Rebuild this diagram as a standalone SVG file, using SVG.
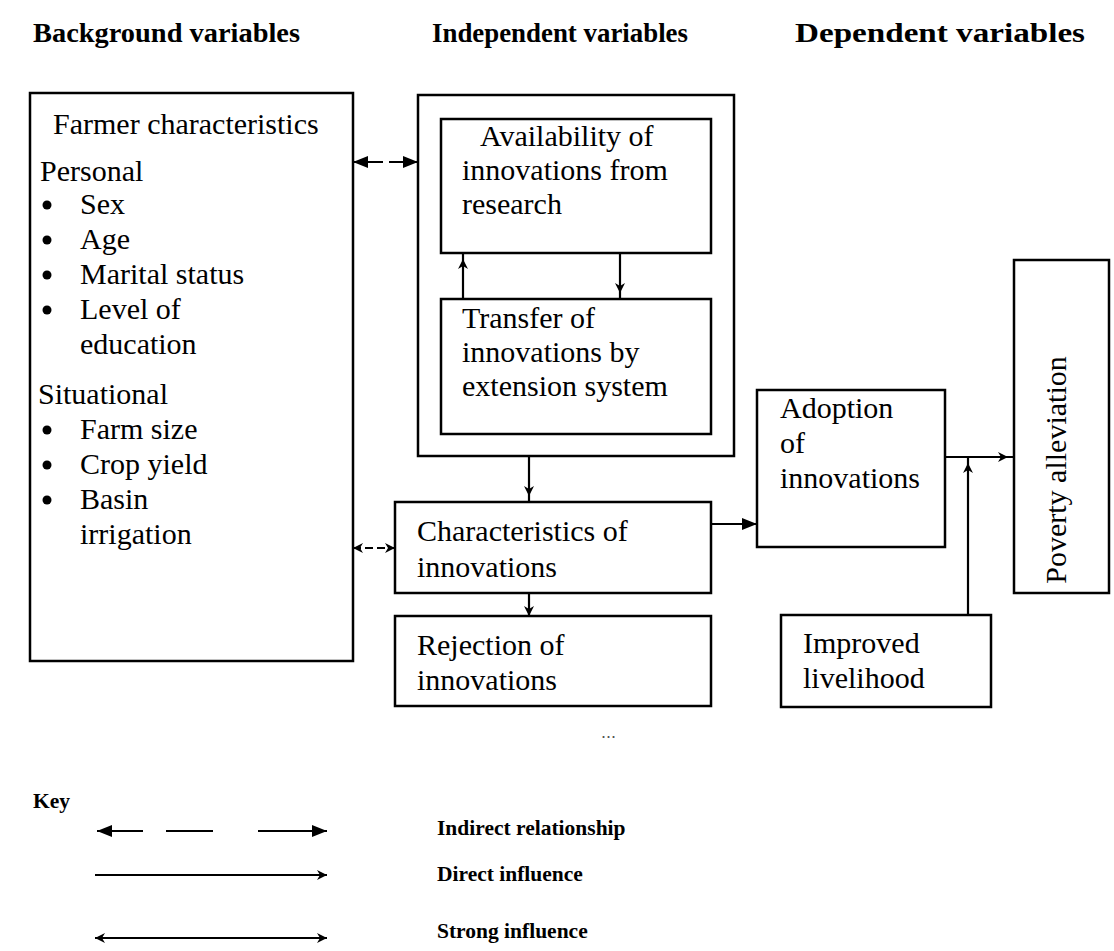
<svg xmlns="http://www.w3.org/2000/svg" width="1114" height="951" viewBox="0 0 1114 951">
<style>
.box{fill:#fff;stroke:#000;stroke-width:2.5}
.t{font-family:"Liberation Serif","Times New Roman",serif;font-size:30px;fill:#000}
.h{font-family:"Liberation Serif","Times New Roman",serif;font-size:27px;font-weight:bold;fill:#000}
.k{font-family:"Liberation Serif","Times New Roman",serif;font-size:21.5px;font-weight:bold;fill:#000}
.c{fill:none;stroke:#000;stroke-width:2.2}
</style>
<defs>
<marker id="big" viewBox="0 0 15 12" refX="15" refY="6" markerWidth="15" markerHeight="12" markerUnits="userSpaceOnUse" orient="auto-start-reverse">
<path d="M0,0 L15,6 L0,12 z" fill="#000"/>
</marker>
<marker id="small" viewBox="0 0 10 10" refX="10" refY="5" markerWidth="10" markerHeight="10" markerUnits="userSpaceOnUse" orient="auto-start-reverse">
<path d="M0,0 L10,5 L0,10 L3,5 z" fill="#000"/>
</marker>
<marker id="smallIn" viewBox="0 0 10 10" refX="16" refY="5" markerWidth="10" markerHeight="10" markerUnits="userSpaceOnUse" orient="auto-start-reverse">
<path d="M0,0 L10,5 L0,10 L3,5 z" fill="#000"/>
</marker>
</defs>

<g id="headers">
<text class="h" x="33" y="42" textLength="267" lengthAdjust="spacingAndGlyphs">Background variables</text>
<text class="h" x="432" y="42" textLength="256" lengthAdjust="spacingAndGlyphs">Independent variables</text>
<text class="h" x="795" y="42" textLength="290" lengthAdjust="spacingAndGlyphs">Dependent variables</text>
</g>

<g id="farmer">
<rect class="box" x="30" y="93" width="323" height="568"/>
<text class="t" x="53" y="134">Farmer characteristics</text>
<text class="t" x="40" y="181">Personal</text>
<circle cx="47" cy="205" r="4.5"/><text class="t" x="80" y="214">Sex</text>
<circle cx="47" cy="240" r="4.5"/><text class="t" x="80" y="249">Age</text>
<circle cx="47" cy="275" r="4.5"/><text class="t" x="80" y="284">Marital status</text>
<circle cx="47" cy="310" r="4.5"/><text class="t" x="80" y="319">Level of</text>
<text class="t" x="80" y="354">education</text>
<text class="t" x="38" y="404">Situational</text>
<circle cx="47" cy="430" r="4.5"/><text class="t" x="80" y="439">Farm size</text>
<circle cx="47" cy="465" r="4.5"/><text class="t" x="80" y="474">Crop yield</text>
<circle cx="47" cy="500" r="4.5"/><text class="t" x="80" y="509">Basin</text>
<text class="t" x="80" y="544">irrigation</text>
</g>

<g id="independent">
<rect class="box" x="418" y="95" width="316" height="361"/>
</g>

<g id="availability">
<rect class="box" x="441" y="119" width="270" height="134"/>
<text class="t" x="480" y="146">Availability of</text>
<text class="t" x="462" y="180">innovations from</text>
<text class="t" x="462" y="214">research</text>
</g>

<g id="transfer">
<rect class="box" x="441" y="299" width="270" height="135"/>
<text class="t" x="462" y="328">Transfer of</text>
<text class="t" x="462" y="362">innovations by</text>
<text class="t" x="462" y="396">extension system</text>
</g>

<g id="characteristics">
<rect class="box" x="395" y="502" width="316" height="91"/>
<text class="t" x="417" y="541">Characteristics of</text>
<text class="t" x="417" y="577">innovations</text>
</g>

<g id="rejection">
<rect class="box" x="395" y="616" width="316" height="90"/>
<text class="t" x="417" y="655">Rejection of</text>
<text class="t" x="417" y="690">innovations</text>
</g>

<g id="adoption">
<rect class="box" x="757" y="390" width="188" height="157"/>
<text class="t" x="780" y="418">Adoption</text>
<text class="t" x="780" y="453">of</text>
<text class="t" x="780" y="488">innovations</text>
</g>

<g id="improved">
<rect class="box" x="781" y="615" width="210" height="92"/>
<text class="t" x="803" y="653">Improved</text>
<text class="t" x="803" y="688">livelihood</text>
</g>

<g id="poverty">
<rect class="box" x="1014" y="260" width="95" height="333"/>
<text class="t" transform="translate(1066,470) rotate(-90)" text-anchor="middle">Poverty alleviation</text>
</g>

<g id="connectors">
<line class="c" x1="353" y1="162" x2="418" y2="162" stroke-dasharray="30 6" marker-start="url(#big)" marker-end="url(#big)"/>
<line class="c" x1="353" y1="548" x2="395" y2="548" stroke-dasharray="8 4" marker-start="url(#small)" marker-end="url(#small)"/>
<line class="c" x1="463" y1="299" x2="463" y2="253" marker-end="url(#smallIn)"/>
<line class="c" x1="620" y1="253" x2="620" y2="299" marker-end="url(#smallIn)"/>
<line class="c" x1="529" y1="456" x2="529" y2="502" marker-end="url(#smallIn)"/>
<line class="c" x1="529" y1="593" x2="529" y2="616" marker-end="url(#small)"/>
<line class="c" x1="711" y1="524" x2="757" y2="524" marker-end="url(#big)"/>
<line class="c" x1="945" y1="457" x2="1014" y2="457" marker-end="url(#smallIn)"/>
<line class="c" x1="968" y1="615" x2="968" y2="457" marker-end="url(#smallIn)"/>
</g>

<text x="601" y="738" font-family="Liberation Sans, sans-serif" font-size="18" fill="#555">...</text>

<g id="key">
<text class="k" x="33" y="808">Key</text>
<path class="c" d="M97,831 L143,831" marker-start="url(#big)"/>
<path class="c" d="M166,831 L213,831"/>
<path class="c" d="M258,831 L327,831" marker-end="url(#big)"/>
<text class="k" x="437" y="835">Indirect relationship</text>
<line class="c" x1="95" y1="875" x2="327" y2="875" marker-end="url(#small)"/>
<text class="k" x="437" y="881">Direct influence</text>
<line class="c" x1="95" y1="938" x2="327" y2="938" marker-start="url(#small)" marker-end="url(#small)"/>
<text class="k" x="437" y="938">Strong influence</text>
</g>
</svg>
